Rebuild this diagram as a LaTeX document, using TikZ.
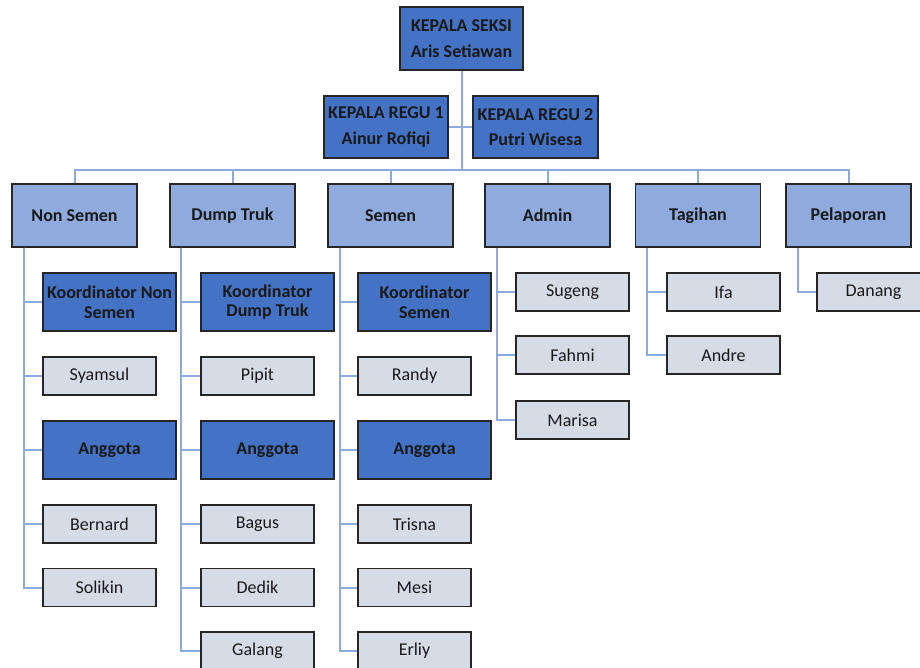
\documentclass[tikz,border=0pt]{standalone}
\usepackage{fontspec}
\setmainfont{Carlito}
\definecolor{darkbox}{HTML}{4472C4}
\definecolor{midbox}{HTML}{8FAADC}
\definecolor{greybox}{HTML}{D6DCE5}
\definecolor{linkline}{HTML}{8EA9DB}
\definecolor{boxline}{HTML}{262626}
\begin{document}
\begin{tikzpicture}[x=1pt,y=-1pt,
    box/.style={draw=boxline,line width=1.4pt,inner sep=0pt,align=center,text=black!90,
      font=\fontsize{18}{19.5}\selectfont},
    head/.style={box,fill=darkbox,minimum width=124pt,minimum height=62pt,
      font=\fontsize{18}{19.5}\selectfont\bfseries},
    unit/.style={box,fill=midbox,minimum width=125pt,minimum height=63pt,
      font=\fontsize{18}{19.5}\selectfont\bfseries},
    koor/.style={box,fill=darkbox,minimum width=133pt,minimum height=58pt,
      font=\fontsize{18}{19.5}\selectfont\bfseries},
    staff/.style={box,fill=greybox,minimum width=113pt,minimum height=38pt},
    link/.style={draw=linkline,line width=2pt}]
  \useasboundingbox (0,0) rectangle (920,667);
  \clip (0,0) rectangle (920,667);
  % kepala
  \node[head,minimum width=123pt,minimum height=63pt] (ks) at (461.5,38.5) {KEPALA SEKSI\\[6pt]Aris Setiawan};
  \node[head] (kr1) at (386,127) {KEPALA REGU 1\\[6pt]Ainur Rofiqi};
  \node[head,minimum width=125pt] (kr2) at (535.5,127) {KEPALA REGU 2\\[6pt]Putri Wisesa};
  % bagian
  \foreach \name/\x/\txt in {ns/74.5/Non Semen,dt/232.5/Dump Truk,sm/390.5/Semen,
      ad/547.5/Admin,tg/698/Tagihan,pl/848.5/Pelaporan}
    \node[unit] (\name) at (\x,215.5) {\txt};
  % Non Semen
  \node[koor] (ns1) at (109.5,302) {Koordinator Non\\Semen};
  \node[staff] (ns2) at (99.5,376) {Syamsul};
  \node[koor] (ns3) at (109.5,450) {Anggota};
  \node[staff] (ns4) at (99.5,524) {Bernard};
  \node[staff] (ns5) at (99.5,587.5) {Solikin};
  % Dump Truk
  \node[koor] (dt1) at (267.5,302) {Koordinator\\Dump Truk};
  \node[staff] (dt2) at (257.5,376) {Pipit};
  \node[koor] (dt3) at (267.5,450) {Anggota};
  \node[staff] (dt4) at (257.5,524) {Bagus};
  \node[staff] (dt5) at (257.5,587.5) {Dedik};
  \node[staff] (dt6) at (257.5,651) {Galang};
  % Semen
  \node[koor] (sm1) at (424.5,302) {Koordinator\\Semen};
  \node[staff] (sm2) at (414.5,376) {Randy};
  \node[koor] (sm3) at (424.5,450) {Anggota};
  \node[staff] (sm4) at (414.5,524) {Trisna};
  \node[staff] (sm5) at (414.5,587.5) {Mesi};
  \node[staff] (sm6) at (414.5,651) {Erliy};
  % Admin, Tagihan, Pelaporan
  \node[staff] (ad1) at (572.5,292) {Sugeng};
  \node[staff] (ad2) at (572.5,355) {Fahmi};
  \node[staff] (ad3) at (572.5,420) {Marisa};
  \node[staff] (tg1) at (723.5,292) {Ifa};
  \node[staff] (tg2) at (723.5,355) {Andre};
  \node[staff] (pl1) at (873.5,292) {Danang};
  % garis
  \coordinate (bus) at ([yshift=13pt]ns.north);
  \draw[link] (ks.south) -- (ks.south |- bus);
  \draw[link] (kr1.east) -- (kr2.west);
  \draw[link] (ns.north) -- (bus) -| (pl.north);
  \foreach \u in {dt,sm,ad,tg}
    \draw[link] (\u.north) -- (\u.north |- bus);
  \foreach \c in {ns1,ns2,ns3,ns4,ns5}
    \draw[link] ([xshift=12.5pt]ns.south west) |- (\c.west);
  \foreach \c in {dt1,dt2,dt3,dt4,dt5,dt6}
    \draw[link] ([xshift=12pt]dt.south west) |- (\c.west);
  \foreach \c in {sm1,sm2,sm3,sm4,sm5,sm6}
    \draw[link] ([xshift=12.5pt]sm.south west) |- (\c.west);
  \foreach \c in {ad1,ad2,ad3}
    \draw[link] ([xshift=12.5pt]ad.south west) |- (\c.west);
  \foreach \c in {tg1,tg2}
    \draw[link] ([xshift=12pt]tg.south west) |- (\c.west);
  \draw[link] ([xshift=12.5pt]pl.south west) |- (pl1.west);
\end{tikzpicture}
\end{document}
